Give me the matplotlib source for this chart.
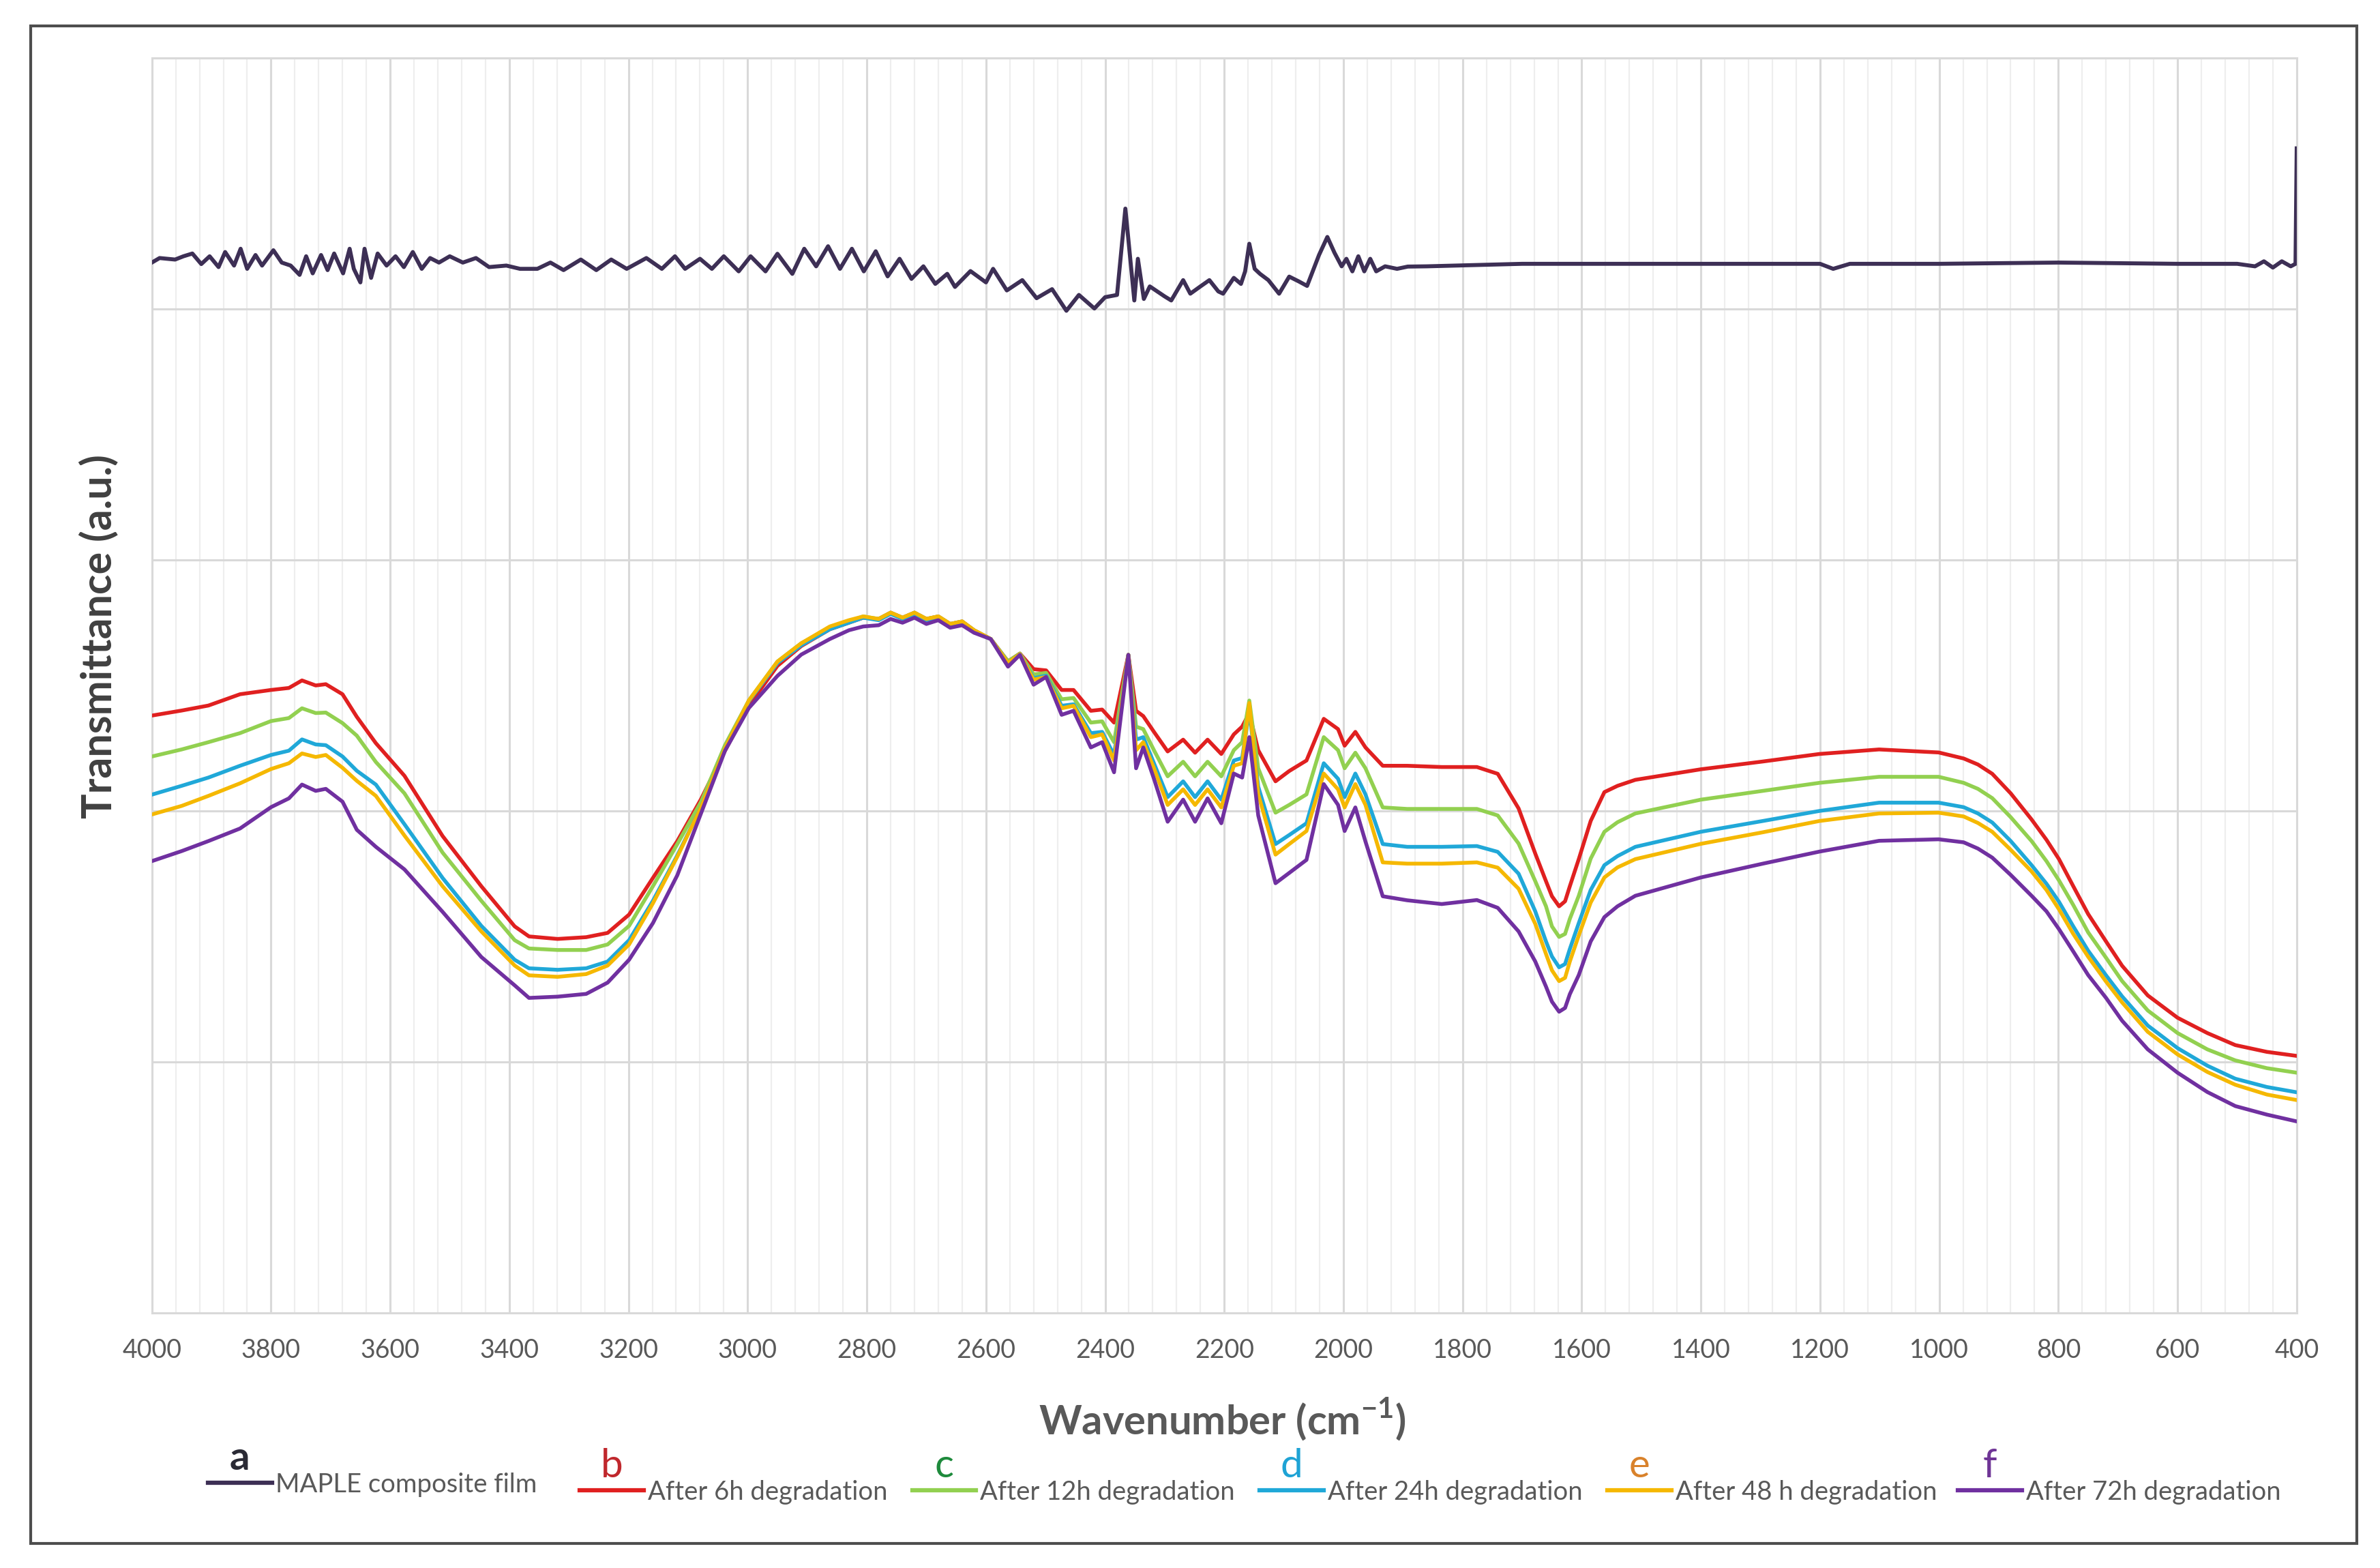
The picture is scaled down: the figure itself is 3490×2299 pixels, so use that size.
import matplotlib
matplotlib.use("Agg")
import matplotlib.pyplot as plt
from matplotlib.lines import Line2D
from matplotlib.patches import Rectangle
from matplotlib.ticker import MultipleLocator

plt.rcParams['font.family'] = ['Lato', 'DejaVu Sans']
plt.rcParams['mathtext.fontset'] = 'custom'
plt.rcParams['mathtext.rm'] = 'Lato'
plt.rcParams['mathtext.bf'] = 'Lato:bold'

# ---- data (y in arbitrary units, gridlines at 0..5) ----
# curve a: MAPLE composite film (top trace)
wn_a = [4000, 3987, 3961, 3947, 3932, 3917, 3903, 3888, 3877, 3862, 3851, 3840,
        3826, 3815, 3796, 3782, 3767, 3752, 3741, 3730, 3716, 3705, 3694, 3679,
        3668, 3661, 3650, 3643, 3632, 3621, 3606, 3591, 3577, 3562, 3547, 3533,
        3518, 3500, 3478, 3456, 3434, 3405, 3382, 3353, 3331, 3309, 3280, 3254,
        3229, 3203, 3170, 3144, 3122, 3105, 3080, 3060, 3040, 3015, 2995, 2970,
        2950, 2925, 2905, 2885, 2865, 2845, 2825, 2805, 2785, 2765, 2745, 2725,
        2705, 2685, 2665, 2652, 2626, 2600, 2588, 2565, 2539, 2515, 2489, 2465,
        2444, 2418, 2400, 2380, 2366, 2351, 2345, 2335, 2325, 2300, 2289, 2269,
        2257, 2240, 2225, 2210, 2202, 2184, 2172, 2165, 2158, 2149, 2140, 2126,
        2108, 2091, 2075, 2061, 2041, 2027, 2015, 2003, 1995, 1985, 1975, 1965,
        1955, 1945, 1930, 1910, 1892, 1860, 1700, 1500, 1300, 1200, 1178, 1150,
        1000, 800, 600, 500, 470, 455, 440, 425, 410, 402, 400]
val_a = [4.185, 4.203, 4.197, 4.21, 4.221, 4.179, 4.21, 4.167, 4.227, 4.173, 4.24, 4.16,
         4.215, 4.173, 4.234, 4.185, 4.173, 4.136, 4.21, 4.142, 4.215, 4.155, 4.221, 4.142,
         4.24, 4.16, 4.106, 4.24, 4.124, 4.221, 4.173, 4.21, 4.167, 4.227, 4.16, 4.203,
         4.185, 4.21, 4.185, 4.203, 4.167, 4.173, 4.16, 4.16, 4.185, 4.155, 4.197, 4.155,
         4.197, 4.16, 4.203, 4.16, 4.21, 4.16, 4.20, 4.16, 4.21, 4.15, 4.21, 4.15,
         4.22, 4.14, 4.24, 4.17, 4.25, 4.16, 4.24, 4.15, 4.23, 4.13, 4.20, 4.12,
         4.17, 4.10, 4.14, 4.088, 4.151, 4.106, 4.16, 4.074, 4.115, 4.043, 4.079, 3.993,
         4.056, 4.002, 4.047, 4.056, 4.40, 4.034, 4.20, 4.04, 4.09, 4.05, 4.034, 4.115,
         4.061, 4.09, 4.115, 4.07, 4.061, 4.124, 4.10, 4.15, 4.26, 4.16, 4.14, 4.115,
         4.061, 4.129, 4.11, 4.092, 4.215, 4.287, 4.224, 4.17, 4.20, 4.15, 4.21, 4.15,
         4.20, 4.15, 4.17, 4.16, 4.169, 4.17, 4.18, 4.18, 4.18, 4.18, 4.16, 4.18,
         4.18, 4.185, 4.18, 4.18, 4.17, 4.19, 4.165, 4.19, 4.17, 4.18, 4.64]

# curves b-f: degraded films, one shared wavenumber list
wn = [4000, 3950, 3905, 3852, 3800, 3770, 3748, 3725, 3708, 3680, 3656, 3624,
      3576, 3512, 3447, 3391, 3367, 3319, 3271, 3235, 3199, 3159, 3118, 3078,
      3038, 2998, 2950, 2910, 2862, 2830, 2806, 2780, 2760, 2740, 2720, 2700,
      2680, 2660, 2640, 2620, 2592, 2563, 2543, 2520, 2499, 2473, 2453, 2424,
      2405, 2385, 2361, 2348, 2336, 2318, 2295, 2269, 2249, 2228, 2205, 2184,
      2170, 2158, 2143, 2114, 2091, 2062, 2033, 2009, 1998, 1980, 1963, 1934,
      1893, 1835, 1776, 1741, 1706, 1678, 1660, 1650, 1638, 1628, 1620, 1605, 1585, 1562, 1540, 1510,
      1400, 1296, 1201, 1101, 1001, 959, 935, 911, 880, 845, 820, 799, 775, 750, 720, 693, 650, 600, 550, 503, 450, 400]

val_b = [2.38, 2.40, 2.42, 2.465, 2.482, 2.49, 2.52, 2.50, 2.505, 2.465, 2.375, 2.27,
         2.14, 1.90, 1.70, 1.54, 1.50, 1.49, 1.497, 1.514, 1.587, 1.733, 1.88, 2.048,
         2.24, 2.42, 2.578, 2.657, 2.724, 2.75, 2.77, 2.765, 2.79, 2.77, 2.79, 2.765,
         2.775, 2.745, 2.755, 2.72, 2.685, 2.596, 2.627, 2.565, 2.56, 2.482, 2.482, 2.399,
         2.404, 2.352, 2.622, 2.399, 2.378, 2.315, 2.237, 2.284, 2.232, 2.284, 2.227, 2.305,
         2.336, 2.39, 2.242, 2.118, 2.159, 2.201, 2.367, 2.326, 2.26, 2.315, 2.253, 2.18,
         2.18, 2.175, 2.175, 2.148, 2.01, 1.83, 1.72, 1.66, 1.62, 1.64, 1.70, 1.808, 1.96, 2.075, 2.10, 2.124,
         2.166, 2.197, 2.227, 2.245, 2.233, 2.209, 2.185, 2.148, 2.07, 1.966, 1.885, 1.808, 1.70, 1.589, 1.48, 1.383, 1.265, 1.176, 1.115, 1.067, 1.04, 1.024]

val_c = [2.217, 2.245, 2.274, 2.31, 2.358, 2.37, 2.409, 2.39, 2.392, 2.35, 2.30, 2.195,
         2.07, 1.834, 1.642, 1.485, 1.452, 1.446, 1.446, 1.468, 1.542, 1.70, 1.868, 2.037,
         2.262, 2.44, 2.595, 2.668, 2.73, 2.755, 2.775, 2.765, 2.79, 2.77, 2.79, 2.765,
         2.775, 2.745, 2.755, 2.72, 2.685, 2.596, 2.627, 2.544, 2.55, 2.445, 2.45, 2.352,
         2.357, 2.274, 2.622, 2.336, 2.326, 2.242, 2.138, 2.196, 2.138, 2.196, 2.138, 2.242,
         2.274, 2.44, 2.17, 1.993, 2.024, 2.066, 2.294, 2.242, 2.17, 2.232, 2.17, 2.014,
         2.008, 2.008, 2.008, 1.982, 1.87, 1.72, 1.62, 1.54, 1.498, 1.51, 1.57, 1.662, 1.81, 1.917, 1.955, 1.99,
         2.045, 2.08, 2.112, 2.136, 2.136, 2.112, 2.088, 2.051, 1.975, 1.88, 1.80, 1.723, 1.625, 1.516, 1.415, 1.322, 1.205, 1.115, 1.05, 1.006, 0.975, 0.957]

val_d = [2.065, 2.10, 2.133, 2.18, 2.223, 2.24, 2.285, 2.265, 2.262, 2.217, 2.16, 2.105,
         1.947, 1.733, 1.542, 1.407, 1.373, 1.367, 1.373, 1.40, 1.485, 1.642, 1.823, 2.015,
         2.25, 2.437, 2.589, 2.66, 2.724, 2.75, 2.77, 2.76, 2.785, 2.765, 2.785, 2.76,
         2.77, 2.74, 2.75, 2.715, 2.685, 2.59, 2.625, 2.529, 2.539, 2.419, 2.425, 2.31,
         2.315, 2.222, 2.622, 2.284, 2.294, 2.19, 2.055, 2.118, 2.055, 2.118, 2.045, 2.201,
         2.211, 2.40, 2.097, 1.868, 1.904, 1.951, 2.19, 2.128, 2.055, 2.149, 2.066, 1.868,
         1.857, 1.857, 1.86, 1.837, 1.75, 1.60, 1.48, 1.42, 1.377, 1.39, 1.45, 1.553, 1.685, 1.784, 1.82, 1.857,
         1.917, 1.96, 2.0, 2.033, 2.033, 2.015, 1.99, 1.954, 1.88, 1.784, 1.71, 1.638, 1.54, 1.443, 1.345, 1.261, 1.145, 1.055, 0.985, 0.933, 0.90, 0.879]

val_e = [1.986, 2.02, 2.06, 2.11, 2.167, 2.19, 2.229, 2.215, 2.223, 2.172, 2.12, 2.06,
         1.902, 1.70, 1.52, 1.384, 1.345, 1.339, 1.35, 1.384, 1.468, 1.632, 1.818, 2.015,
         2.25, 2.44, 2.595, 2.668, 2.735, 2.76, 2.775, 2.765, 2.79, 2.77, 2.79, 2.765,
         2.775, 2.745, 2.755, 2.72, 2.685, 2.59, 2.625, 2.523, 2.534, 2.409, 2.419, 2.294,
         2.305, 2.201, 2.622, 2.242, 2.274, 2.17, 2.024, 2.086, 2.024, 2.086, 2.014, 2.18,
         2.19, 2.43, 2.066, 1.826, 1.868, 1.92, 2.149, 2.086, 2.014, 2.107, 2.024, 1.795,
         1.79, 1.79, 1.795, 1.774, 1.69, 1.55, 1.43, 1.365, 1.322, 1.335, 1.40, 1.504, 1.635, 1.735, 1.775, 1.808,
         1.869, 1.915, 1.96, 1.99, 1.993, 1.978, 1.952, 1.917, 1.845, 1.759, 1.685, 1.608, 1.51, 1.419, 1.32, 1.237, 1.12, 1.03, 0.96, 0.909, 0.87, 0.848]

val_f = [1.80, 1.84, 1.88, 1.93, 2.015, 2.05, 2.105, 2.08, 2.088, 2.037, 1.925, 1.857,
         1.767, 1.598, 1.418, 1.305, 1.255, 1.26, 1.271, 1.316, 1.407, 1.553, 1.744, 1.992,
         2.24, 2.41, 2.538, 2.623, 2.685, 2.72, 2.735, 2.74, 2.765, 2.75, 2.77, 2.745,
         2.76, 2.73, 2.74, 2.71, 2.685, 2.575, 2.622, 2.503, 2.534, 2.383, 2.399, 2.253,
         2.274, 2.154, 2.622, 2.17, 2.253, 2.128, 1.957, 2.045, 1.957, 2.05, 1.951, 2.149,
         2.133, 2.294, 1.982, 1.712, 1.753, 1.805, 2.107, 2.024, 1.92, 2.014, 1.878, 1.66,
         1.644, 1.629, 1.645, 1.614, 1.52, 1.40, 1.30, 1.24, 1.20, 1.215, 1.27, 1.346, 1.48, 1.577, 1.62, 1.662,
         1.735, 1.79, 1.838, 1.881, 1.887, 1.875, 1.85, 1.814, 1.745, 1.662, 1.60, 1.529, 1.44, 1.346, 1.255, 1.164, 1.05, 0.957, 0.88, 0.824, 0.79, 0.763]

letters = ['a', 'b', 'c', 'd', 'e', 'f']
labels = ['MAPLE composite film', 'After 6h degradation', 'After 12h degradation',
          'After 24h degradation', 'After 48 h degradation', 'After 72h degradation']
line_colors = ['#3d2f55', '#e02020', '#92d050', '#20a8d8', '#f5b800', '#7030a0']
letter_colors = ['#2a2a35', '#c0282d', '#1e8a3c', '#1fa3d5', '#d9822b', '#6f3596']

fig = plt.figure(figsize=(34.9, 22.99), dpi=100)
ax = fig.add_axes([0.0638, 0.1627, 0.9012, 0.8003])

series = [val_b, val_c, val_d, val_e, val_f]
ax.plot(wn_a, val_a, color=line_colors[0], lw=4.2, solid_joinstyle='round', zorder=3)
for vals, col in zip(series, line_colors[1:]):
    ax.plot(wn, vals, color=col, lw=4.0, solid_joinstyle='round', zorder=3)

ax.set_xlim(4000, 400)
ax.set_ylim(0, 5)
ax.set_xticks(list(range(4000, 399, -200)))
ax.xaxis.set_minor_locator(MultipleLocator(40))
ax.set_yticks([0, 1, 2, 3, 4, 5])
ax.set_yticklabels([])
ax.grid(which='major', color='#d9d9d9', lw=2.2)
ax.grid(which='minor', axis='x', color='#eeeeee', lw=1.6)
ax.set_axisbelow(True)
ax.tick_params(which='both', length=0)
ax.tick_params(axis='x', labelsize=27, labelcolor='#595959', pad=27)
for sp in ax.spines.values():
    sp.set_color('#d9d9d9')
    sp.set_linewidth(2.2)

fig.text(0.5135, 0.095, r'Wavenumber (cm$^{\mathbf{-1}}$)', ha='center', va='center',
         fontsize=43, fontweight='bold', color='#595959')
fig.text(0.0415, 0.594, 'Transmittance (a.u.)', rotation=90, ha='center', va='center',
         fontsize=44, fontweight='bold', color='#404040')

# legend, drawn by hand: short line, letter above it, label to the right
leg_x0 = [0.0874, 0.2436, 0.3833, 0.5293, 0.6754, 0.8227]
leg_y = [0.0542, 0.0494, 0.0494, 0.0494, 0.0494, 0.0494]
for i in range(6):
    x0, y = leg_x0[i], leg_y[i]
    fig.add_artist(Line2D([x0, x0 + 0.0268], [y, y], color=line_colors[i], lw=4.5))
    fig.text(x0 + 0.0134, y + 0.004, letters[i], ha='center', va='bottom',
             fontsize=42, fontweight='bold' if i == 0 else 'normal', color=letter_colors[i])
    fig.text(x0 + 0.0285, y - 0.001, labels[i], ha='left', va='center',
             fontsize=27.5, color='#595959')

fig.add_artist(Rectangle((0.0128, 0.0155), 0.9776, 0.968, transform=fig.transFigure,
                         fill=False, edgecolor='#4d4d4d', lw=3))

fig.savefig('out.png', dpi=100, facecolor='white')
